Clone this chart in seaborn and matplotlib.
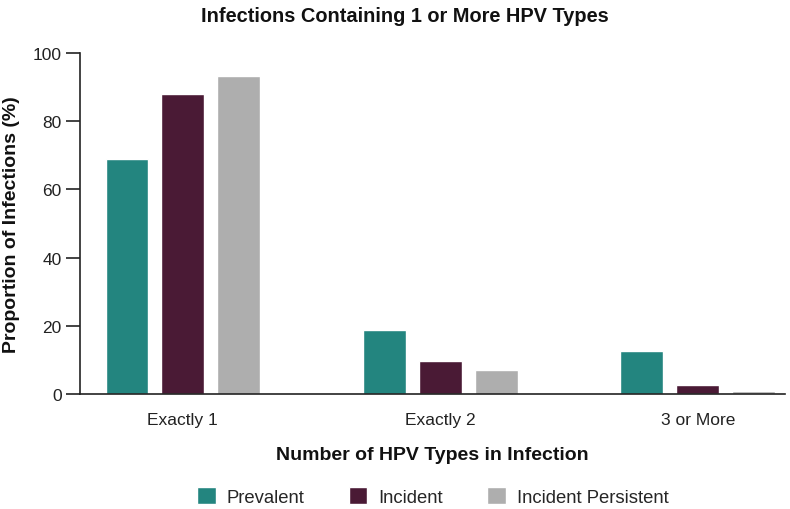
import matplotlib
matplotlib.use("Agg")
import matplotlib.pyplot as plt
import pandas as pd
import seaborn as sns

# Data
categories = ["Exactly 1", "Exactly 2", "3 or More"]
prevalent = [68.8, 18.7, 12.5]
incident = [88.0, 9.8, 2.5]
incident_persistent = [93.3, 7.1, 0.8]
series_names = ["Prevalent", "Incident", "Incident Persistent"]
colors = ["#23857f", "#4a1a35", "#aeaeae"]

df = pd.DataFrame({
    "category": categories * 3,
    "series": [s for s in series_names for _ in categories],
    "value": prevalent + incident + incident_persistent,
})

sns.set_style("white")
plt.rcParams["font.family"] = ["Liberation Sans", "DejaVu Sans"]

fig = plt.figure(figsize=(7.9, 5.1), dpi=100)
ax = fig.add_axes([0.101, 0.2255, 0.893, 0.6685])

sns.barplot(data=df, x="category", y="value", hue="series", order=categories,
            hue_order=series_names, palette=colors, width=0.65, gap=0.23,
            saturation=1, ax=ax, legend=True)

ax.set_xlim(-0.4, 2.34)
ax.set_ylim(0, 100)
ax.set_yticks([0, 20, 40, 60, 80, 100])
ax.tick_params(axis="y", length=10, width=1.2, labelsize=12.5, colors="#222222", pad=3, left=True)
ax.tick_params(axis="x", length=0, labelsize=12.5, colors="#222222", pad=13)
sns.despine(ax=ax)
ax.spines["left"].set_color("#222222")
ax.spines["bottom"].set_color("#222222")
ax.spines["left"].set_linewidth(1.2)
ax.spines["bottom"].set_linewidth(1.2)

ax.set_xlabel("Number of HPV Types in Infection", fontsize=14, fontweight="bold",
              color="#111111", labelpad=14)
ax.set_ylabel("Proportion of Infections (%)", fontsize=14, fontweight="bold",
              color="#111111", labelpad=9)
fig.suptitle("Infections Containing 1 or More HPV Types", fontsize=14.4,
             fontweight="bold", color="#111111", x=0.513, y=0.987)

handles, labels = ax.get_legend_handles_labels()
ax.get_legend().remove()
fig.legend(handles, labels, loc="center", bbox_to_anchor=(0.548, 0.024),
           ncol=3, frameon=False, fontsize=13.3, handlelength=1.0, handleheight=1.0,
           columnspacing=2.4, handletextpad=0.6)

fig.savefig("out.png", dpi=100)
